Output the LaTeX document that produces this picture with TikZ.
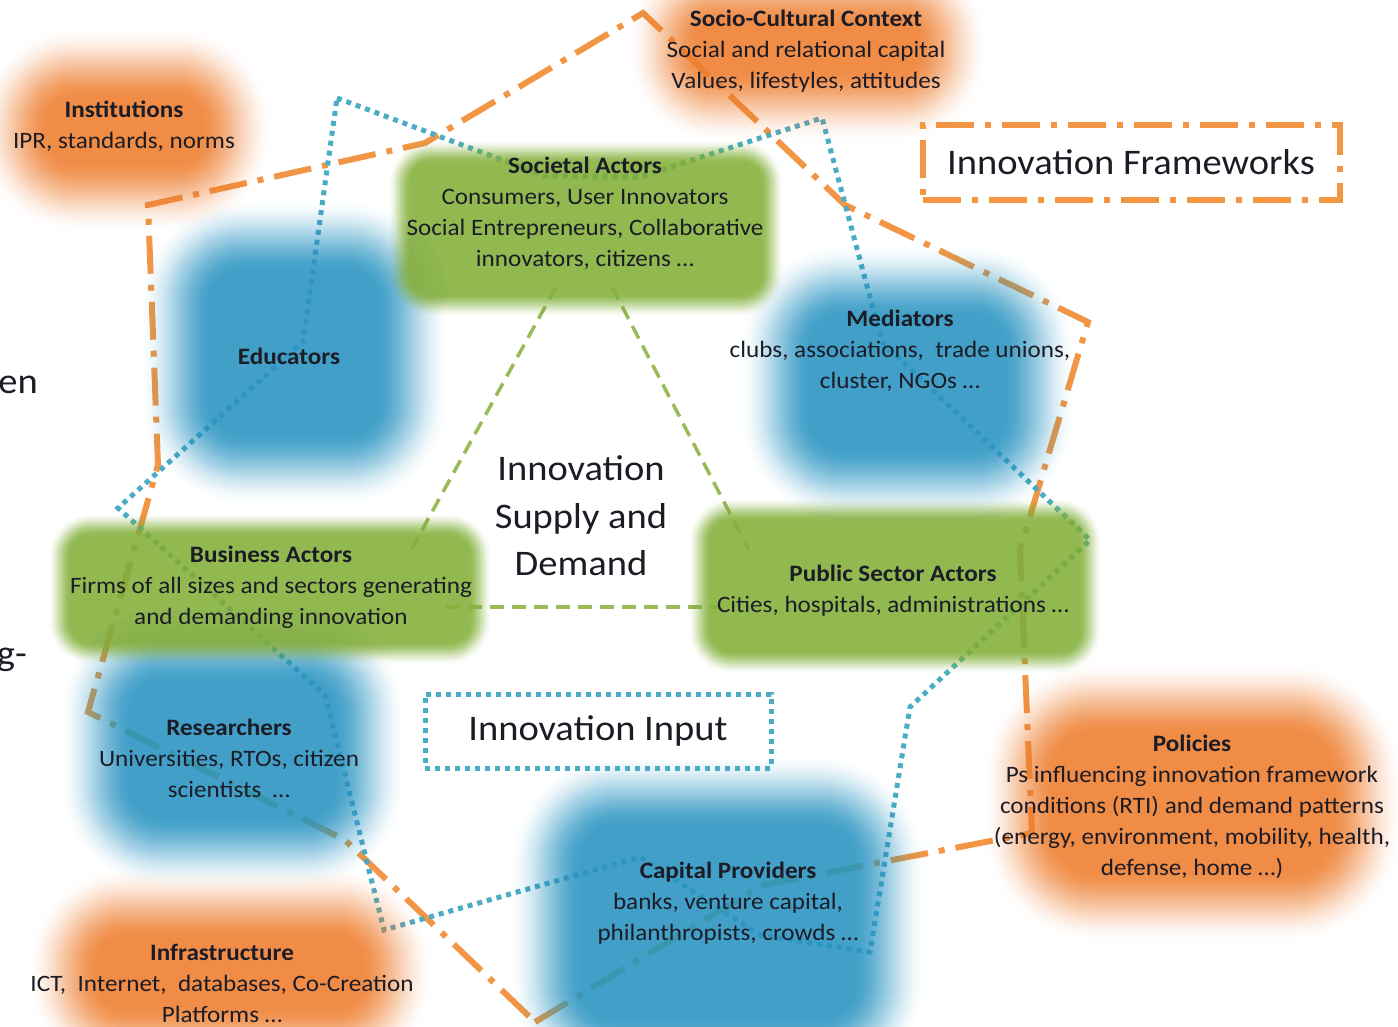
\documentclass[tikz,border=0pt]{standalone}
\usepackage{fontspec}
\setmainfont{Carlito}[FakeStretch=1.07]
\usetikzlibrary{calc}
\definecolor{frameorange}{RGB}{242,150,70}
\definecolor{inputblue}{RGB}{75,172,198}
\definecolor{supplygreen}{RGB}{155,187,89}
\definecolor{bloborange}{RGB}{238,127,49}
\definecolor{blobblue}{RGB}{44,149,194}
\definecolor{blobgreen}{RGB}{133,177,61}
\definecolor{textdark}{RGB}{28,28,38}
\tikzset{blobtext/.style={align=center, inner sep=0pt, text=textdark, font=\fontsize{23.5}{31}\selectfont}}
\tikzset{bigtext/.style={align=center, inner sep=0pt, text=textdark, font=\fontsize{36}{47.5}\selectfont}}
\tikzset{frameline/.style={line width=6pt, draw=frameorange, dash pattern=on 38pt off 11pt on 6pt off 11pt}}
\tikzset{inputline/.style={line width=5pt, draw=inputblue, dash pattern=on 5pt off 5pt}}
\tikzset{supplyline/.style={line width=3.5pt, draw=supplygreen, dash pattern=on 14pt off 8pt}}
\newcommand{\softblob}[5]{\foreach \k in {0,...,29} {
  \pgfmathsetmacro\ta{\k/30}
  \pgfmathsetmacro\tb{(\k+1)/30}
  \pgfmathsetmacro\ca{0.9*\ta*\ta*(3-2*\ta)}
  \pgfmathsetmacro\cb{0.9*\tb*\tb*(3-2*\tb)}
  \pgfmathsetmacro\op{1-(1-\cb)/(1-\ca)}
  \pgfmathsetmacro\rad{#3+(29-\k)*#2}
  \fill[#1, fill opacity=\op, rounded corners=\rad pt] ($#4+(\k*#2,\k*#2)$) rectangle ($#5-(\k*#2,\k*#2)$);}}

\begin{document}
\begin{tikzpicture}[x=1pt, y=-1pt]
\useasboundingbox (0,0) rectangle (1398,1026);
\draw[frameline] (535,1022) -- (763,885) -- (1032,833) -- (1020,550) -- (1088,322) -- (845,205) -- (643,13) -- (425,143) -- (148,205) -- (158,465) -- (88,712) -- (345,840) -- cycle;
\draw[inputline] (337,98) -- (545,176) -- (640,177) -- (822,118) -- (882,342) -- (1090,540) -- (910,707) -- (870,952) -- (760,935) -- (640,857) -- (384,930) -- (325,695) -- (118,508) -- (303,342) -- cycle;
\coordinate (socL) at (556,287);
\coordinate (socR) at (612,287);
\coordinate (busT) at (411,550);
\coordinate (busR) at (446,607);
\coordinate (pubT) at (749,550);
\coordinate (pubL) at (718,607);
\draw[supplyline] (socL) -- (busT);
\draw[supplyline] (socR) -- (pubT);
\draw[supplyline] (busR) -- (pubL);

\softblob{bloborange}{2.5}{25}{(-22,28)}{(272,232)}
\softblob{bloborange}{2.5}{15}{(628,-47)}{(987,142)}
\softblob{bloborange}{2.5}{40}{(983,663)}{(1402,942)}
\softblob{bloborange}{2.5}{25}{(28,868)}{(432,1077)}
\softblob{blobblue}{2.5}{30}{(140,200)}{(448,505)}
\softblob{blobblue}{2.5}{30}{(740,245)}{(1075,520)}
\softblob{blobblue}{2.5}{30}{(60,610)}{(405,888)}
\softblob{blobblue}{2.5}{35}{(510,755)}{(925,1090)}
\softblob{blobgreen}{0.8}{20}{(388,140)}{(784,317)}
\softblob{blobgreen}{0.8}{20}{(48,513)}{(492,665)}
\softblob{blobgreen}{0.8}{20}{(688,498)}{(1102,674)}

\node[blobtext] (inst) at (124,126) {\textbf{Institutions}\\IPR, standards, norms};
\node[blobtext] (socio) at (806,51) {\textbf{Socio-Cultural Context}\\Social and relational capital\\Values, lifestyles, attitudes};
\node[blobtext] (soc) at (585,213) {\textbf{Societal Actors}\\Consumers, User Innovators\\Social Entrepreneurs, Collaborative\\innovators, citizens …};
\node[blobtext] (edu) at (289,356) {\textbf{Educators}};
\node[blobtext] (med) at (900,351) {\textbf{Mediators}\\clubs, associations,\ \ trade unions,\\cluster, NGOs …};
\node[blobtext] (bus) at (271,587) {\textbf{Business Actors}\\Firms of all sizes and sectors generating\\and demanding innovation};
\node[blobtext] (pub) at (893,591) {\textbf{Public Sector Actors}\\Cities, hospitals, administrations …};
\node[blobtext] (res) at (229,758) {\textbf{Researchers}\\Universities, RTOs, citizen\\scientists\ \ …};
\node[blobtext] (cap) at (728,903) {\textbf{Capital Providers}\\banks, venture capital,\\philanthropists, crowds …};
\node[blobtext] (pol) at (1192,807) {\textbf{Policies}\\Ps influencing innovation framework\\conditions (RTI) and demand patterns\\(energy, environment, mobility, health,\\defense, home …)};
\node[blobtext] (infra) at (222,983) {\textbf{Infrastructure}\\ICT,\ \ Internet,\ \ databases, Co-Creation\\Platforms …};
\node[bigtext] (supply) at (581,516) {Innovation\\Supply and\\Demand};
\node[bigtext, frameline, minimum width=417pt, minimum height=75pt] (frameworks) at (1131,162) {Innovation Frameworks};
\node[bigtext, inputline, minimum width=346pt, minimum height=74pt] (input) at (598,731) {Innovation Input};
\node[bigtext, anchor=east] (cuten) at (38,385) {en};
\node[bigtext, anchor=east] (cutg) at (27,660) {g-};
\end{tikzpicture}
\end{document}
